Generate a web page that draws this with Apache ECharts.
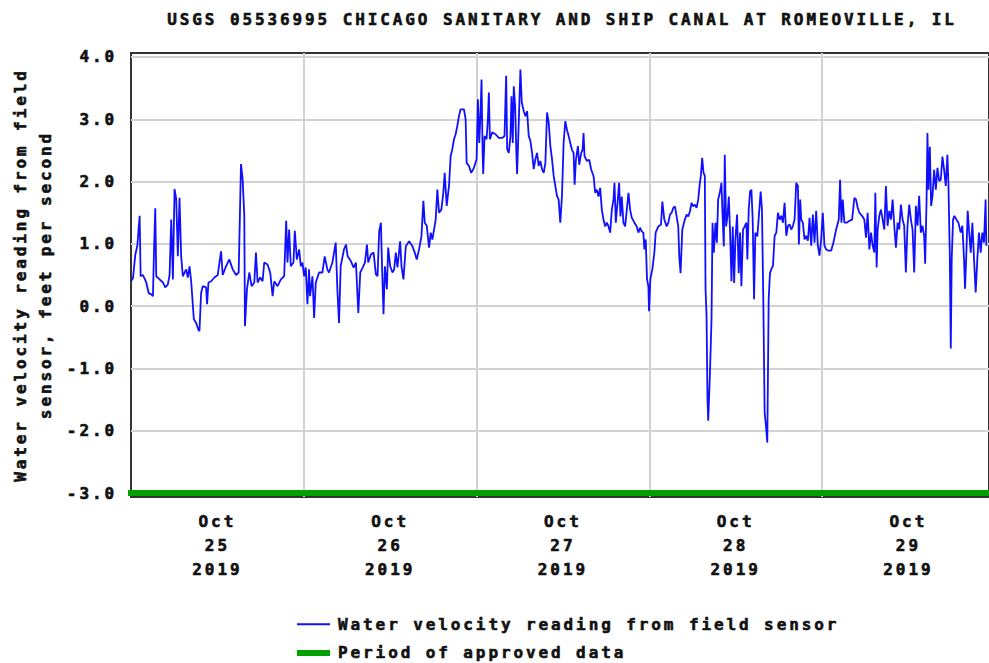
<!DOCTYPE html>
<html>
<head>
<meta charset="utf-8">
<script src="https://cdn.jsdelivr.net/npm/echarts@6/dist/echarts.min.js"></script>
<style>
  html, body { margin: 0; padding: 0; background: #fff; }
  #chart { width: 989px; height: 663px; }
  /* the USGS plot uses a wide bitmap font, widen the mono glyphs a bit */
  #chart text { letter-spacing: 2.9px; }
</style>
</head>
<body>
<div id="chart"></div>
<script>
// hours since 2019-10-25 00:00, water velocity (ft/s)
const sensorPart1 = [[0,0.40],[0.28,0.45],[0.60,0.83],[0.88,0.97],[1.20,1.45],[1.34,0.48],[1.66,0.50],[2.12,0.38],[2.45,0.21],[2.82,0.19],[3.05,0.16],[3.19,0.86],[3.37,1.57],[3.51,0.48],[3.97,0.43],[4.43,0.38],[4.76,0.30],[5.12,0.35],[5.36,0.50],[5.59,1.39],[5.82,0.43],[6.05,1.88],[6.28,1.72],[6.51,0.80],[6.74,1.74],[6.97,0.80],[7.20,0.48],[7.66,0.59],[7.89,0.46],[8.13,0.64],[8.36,0.40],[8.73,-0.21],[9.05,-0.27],[9.37,-0.38],[9.51,-0.40],[9.74,0.21],[9.97,0.32],[10.43,0.30],[10.57,0.03],[10.76,0.38],[11.13,0.40],[11.59,0.46],[12.05,0.50],[12.51,0.88],[12.74,0.50],[13.20,0.64],[13.66,0.75],[14.13,0.59],[14.59,0.50],[14.96,0.54],[15.28,2.28],[15.51,2.04],[15.74,1.45],[15.83,-0.32],[16.11,0.27],[16.43,0.54],[16.76,0.32],[17.13,0.38],[17.36,0.86],[17.59,0.38],[17.96,0.46],[18.28,0.40],[18.51,0.70],[18.97,0.67],[19.34,0.54],[19.67,0.16],[19.90,0.40],[20.36,0.32],[20.82,0.43],[21.28,0.48],[21.56,1.37],[21.74,0.70],[21.97,1.23],[22.20,0.64],[22.57,0.70],[22.76,1.21],[23.04,0.75],[23.36,0.91],[23.59,0.64],[23.82,0.70],[24.05,0.48],[24.28,0.62],[24.51,0.03],[24.74,0.59],[24.88,0.16],[25.21,0.48],[25.44,-0.19],[25.67,0.38],[26.13,0.54],[26.59,0.54],[26.91,0.80],[27.28,0.59],[27.51,0.54],[27.98,0.70],[28.44,1.02],[28.67,0.27],[28.90,-0.27],[29.13,0.64],[29.59,0.91]];
const sensorPart2 = [[29.87,0.99],[30.10,0.80],[30.56,0.72],[30.93,0.62],[31.25,0.70],[31.58,-0.11],[31.85,0.54],[32.18,0.62],[32.50,0.70],[32.78,0.99],[32.96,0.70],[33.33,0.83],[33.70,0.86],[34.02,0.51],[34.25,0.48],[34.48,1.20],[34.72,1.34],[34.90,0.54],[35.08,-0.13],[35.27,0.64],[35.55,0.27],[35.73,0.94],[36.01,0.64],[36.33,0.54],[36.56,0.59],[36.79,0.86],[37.02,0.62],[37.39,1.04],[37.58,0.64],[37.85,0.43],[38.18,0.96],[38.64,1.04],[39.10,0.96],[39.42,0.86],[39.70,0.75],[40.02,0.91],[40.35,1.12],[40.62,1.69],[40.81,1.34],[41.09,1.29],[41.41,0.94],[41.64,1.18],[41.87,1.07],[42.10,1.23],[42.33,1.39],[42.56,1.87],[42.79,1.50],[43.12,1.55],[43.39,1.82],[43.58,2.14],[43.86,1.61],[44.18,1.93],[44.41,2.41],[44.64,2.52],[44.87,2.68],[45.10,2.76],[45.33,2.89],[45.56,3.05],[45.79,3.16],[46.26,3.16],[46.49,3.00],[46.63,2.30],[46.95,2.25],[47.27,2.14],[47.64,2.22],[48.01,2.36],[48.20,3.32],[48.38,2.62],[48.56,3.11],[48.70,3.64],[48.84,2.52],[48.93,2.12],[49.12,2.73],[49.40,2.68],[49.58,3.00],[49.72,3.43],[49.86,2.68],[50.18,2.79],[50.64,2.76],[51.10,2.70],[51.56,2.70],[51.89,2.73],[52.12,3.70],[52.26,2.52],[52.49,2.46],[52.72,2.73],[52.86,3.37],[53.04,2.62],[53.18,3.53],[53.37,3.21],[53.55,2.41],[53.64,2.12],[53.87,2.95],[54.10,3.80],[54.29,3.27],[54.57,3.13],[54.80,3.05],[55.03,3.13],[55.26,2.73],[55.49,2.65],[55.72,2.46],[55.95,2.20],[56.18,2.36],[56.41,2.46],[56.64,2.25],[56.87,2.33],[57.10,2.20],[57.34,2.14],[57.57,2.30],[57.80,3.11],[58.03,2.95],[58.26,2.57],[58.49,2.36],[58.72,2.09],[58.95,1.93],[59.18,1.77],[59.41,1.71],[59.64,1.34]];
const sensorPart3 = [[59.87,1.76],[60.10,2.62],[60.34,2.97],[60.57,2.83],[60.80,2.73],[61.03,2.62],[61.26,2.51],[61.49,2.46],[61.63,1.95],[61.81,2.35],[62.09,2.57],[62.27,2.27],[62.55,2.46],[62.74,2.51],[62.87,2.78],[63.01,2.41],[63.34,2.33],[63.66,2.35],[63.94,2.19],[64.26,2.09],[64.49,1.82],[64.72,1.87],[64.95,1.76],[65.18,1.90],[65.41,1.55],[65.64,1.39],[65.88,1.28],[66.11,1.34],[66.34,1.28],[66.57,1.18],[66.80,1.55],[67.03,1.71],[67.17,1.98],[67.35,1.34],[67.63,1.71],[67.81,1.98],[68.00,1.44],[68.18,1.76],[68.41,1.34],[68.65,1.28],[68.88,1.55],[69.11,1.82],[69.34,1.55],[69.57,1.42],[69.94,1.34],[70.26,1.28],[70.49,1.18],[70.72,1.26],[70.95,1.20],[71.18,1.18],[71.32,0.91],[71.51,1.07],[71.69,0.43],[71.88,0.32],[71.97,-0.08],[72.15,0.43],[72.43,0.59],[72.71,0.86],[72.89,1.18],[73.26,1.28],[73.63,1.31],[73.82,1.68],[74.09,1.39],[74.42,1.28],[74.65,1.34],[74.88,1.47],[75.11,1.50],[75.34,1.58],[75.57,1.60],[75.80,1.44],[76.03,1.28],[76.17,0.80],[76.35,0.53],[76.59,1.23],[76.95,1.39],[77.19,1.47],[77.42,1.44],[77.65,1.52],[77.88,1.66],[78.11,1.60],[78.34,1.63],[78.57,1.58],[78.80,1.71],[79.03,1.98],[79.17,2.09],[79.35,2.38],[79.54,2.14],[79.72,2.09],[79.82,0.27],[79.96,-0.16],[80.09,-1.50],[80.19,-1.84],[80.42,-1.12],[80.65,-0.21],[80.79,1.34],[80.97,0.86],[81.20,1.34],[81.39,1.02],[81.57,1.71],[81.80,1.82],[82.03,1.98],[82.17,1.50],[82.36,0.96],[82.49,2.43],[82.68,1.28],[82.86,1.44],[83.05,1.76],[83.23,1.18],[83.42,0.40],[83.60,1.28],[83.79,0.37],[83.97,1.07],[84.20,1.47],[84.43,0.53],[84.62,1.18],[84.80,0.32],[85.03,1.23],[85.26,1.28],[85.49,1.34],[85.63,0.75],[85.82,1.55],[86.00,1.84],[86.19,1.87],[86.37,1.39],[86.56,0.11],[86.74,1.18],[87.02,1.12],[87.29,1.55],[87.48,1.84],[87.66,1.55],[87.85,0.05],[88.03,-1.71],[88.22,-1.93],[88.40,-2.19],[88.59,0.11],[88.77,0.53],[88.96,0.59]];
const sensorPart4 = [[89.19,0.65],[89.42,1.13],[89.65,1.18],[89.88,1.50],[90.11,1.39],[90.34,1.45],[90.57,1.34],[90.80,1.66],[91.04,1.13],[91.27,1.29],[91.50,1.31],[91.73,1.23],[91.96,1.29],[92.19,1.39],[92.42,1.98],[92.65,1.93],[92.79,0.99],[92.97,1.71],[93.11,1.39],[93.34,1.34],[93.57,1.07],[93.80,1.13],[94.04,1.05],[94.27,1.42],[94.50,0.97],[94.73,1.47],[94.96,1.02],[95.19,1.53],[95.42,0.97],[95.65,0.81],[95.88,1.07],[96.11,1.50],[96.34,0.97],[96.57,0.91],[96.94,0.89],[97.27,0.89],[97.59,1.02],[97.96,1.23],[98.33,1.39],[98.51,2.03],[98.70,1.34],[98.88,1.71],[99.11,1.34],[99.44,1.34],[99.81,1.37],[100.18,1.39],[100.50,1.74],[100.73,1.71],[100.96,1.58],[101.19,1.50],[101.56,1.45],[101.88,1.39],[102.11,1.10],[102.34,1.50],[102.58,0.91],[102.81,1.18],[103.04,0.97],[103.27,0.86],[103.41,1.82],[103.59,0.62],[103.73,1.23],[103.96,1.45],[104.19,1.55],[104.42,1.39],[104.65,1.23],[104.88,1.93],[105.11,1.29],[105.35,1.53],[105.58,1.39],[105.81,1.71],[106.04,1.29],[106.27,0.94],[106.50,1.34],[106.73,1.23],[106.96,1.63],[107.19,1.39],[107.42,1.29],[107.65,0.54],[107.88,1.29],[108.12,1.63],[108.35,1.39],[108.58,1.23],[108.81,0.54],[109.04,1.61],[109.27,1.29],[109.50,1.77],[109.73,1.18],[109.96,1.29],[110.19,1.13],[110.33,0.68],[110.52,1.66],[110.65,2.78],[110.79,1.87],[110.98,2.56],[111.16,1.61],[111.35,1.77],[111.58,2.19],[111.81,1.87],[112.04,2.22],[112.27,2.01],[112.50,2.03],[112.73,2.40],[112.96,2.19],[113.19,1.93],[113.42,2.43],[113.56,1.98],[113.75,0.86],[113.89,-0.68],[114.02,0.76],[114.21,1.39],[114.39,1.45],[114.67,1.39],[114.95,1.34],[115.27,1.18],[115.50,1.29],[115.73,0.76],[115.87,0.28],[116.06,0.86],[116.24,1.53],[116.42,1.23],[116.66,0.86],[116.89,1.34],[117.12,0.76],[117.35,0.22],[117.58,0.76],[117.81,1.18],[118.04,0.86],[118.27,1.18],[118.50,1.02],[118.73,1.71],[118.83,0.97]];

// approved-data period, drawn along the bottom of the plot
const approvedHours = [-0.7, 119.2];
const approvedLevel = -3.0;

const yTicks = [-3, -2, -1, 0, 1, 2, 3, 4];
const dayStarts = [24, 48, 72, 96];
const dayNoons = [12, 36, 60, 84, 108];
const dayMonth = 'Oct';
const dayNumbers = ['25', '26', '27', '28', '29'];
const dayYear = '2019';

const font = 'DejaVu Sans Mono';
// thin outline in the text colour makes the glyphs as heavy as the original bitmap font
const textStyle = {
  fontFamily: font, fontWeight: 'bold', fontSize: 16, color: '#111',
  textBorderColor: '#111', textBorderWidth: 0.6
};
const blue = '#1010ff';
const green = '#00a000';

const chart = echarts.init(document.getElementById('chart'), null, { renderer: 'svg' });

chart.setOption({
  animation: false,
  backgroundColor: '#fff',
  title: {
    text: 'USGS 05536995 CHICAGO SANITARY AND SHIP CANAL AT ROMEOVILLE, IL',
    left: 557,
    top: 6,
    textAlign: 'center',
    textStyle: textStyle
  },
  grid: {
    left: 130,
    right: -2,
    top: 53,
    bottom: 166,
    show: true,
    backgroundColor: '#fff',
    borderColor: '#333',
    borderWidth: 2
  },
  legend: {
    orient: 'vertical',
    left: 292,
    top: 611,
    height: 60,
    itemWidth: 33,
    itemHeight: 14,
    itemGap: 12,
    textStyle: { ...textStyle, padding: [0, 0, 0, 3] },
    data: [
      { name: 'Water velocity reading from field sensor', icon: 'path://M0,0 L33,0 L33,2 L0,2 Z' },
      { name: 'Period of approved data', icon: 'path://M0,0 L33,0 L33,6 L0,6 Z' }
    ]
  },
  xAxis: {
    type: 'value',
    min: 0,
    max: 119.2,
    axisLine: { show: false },
    axisTick: { show: false, customValues: dayStarts },
    splitLine: { show: true, lineStyle: { color: '#d2d2d2', width: 2 } },
    axisLabel: {
      customValues: dayNoons,
      margin: 12,
      ...textStyle,
      lineHeight: 24,
      formatter: v => {
        const i = dayNoons.indexOf(v);
        return i < 0 ? '' : dayMonth + '\n' + dayNumbers[i] + '\n' + dayYear;
      }
    }
  },
  yAxis: {
    type: 'value',
    min: -3.064,
    max: 4.064,
    name: 'Water velocity reading from field\nsensor, feet per second',
    nameLocation: 'middle',
    nameRotate: 90,
    nameGap: 73,
    nameTextStyle: { ...textStyle, lineHeight: 25 },
    axisLine: { show: false },
    axisTick: { show: false, customValues: yTicks },
    splitLine: { show: true, lineStyle: { color: '#d2d2d2', width: 2 } },
    axisLabel: {
      customValues: yTicks,
      margin: 14,
      ...textStyle,
      formatter: v => v.toFixed(1)
    }
  },
  series: [
    {
      name: 'Water velocity reading from field sensor',
      type: 'line',
      data: [...sensorPart1, ...sensorPart2, ...sensorPart3, ...sensorPart4],
      showSymbol: false,
      symbol: 'none',
      sampling: 'none',
      lineStyle: { color: blue, width: 1.8 },
      itemStyle: { color: blue },
      z: 3
    },
    {
      name: 'Period of approved data',
      type: 'line',
      data: approvedHours.map(h => [h, approvedLevel]),
      showSymbol: false,
      symbol: 'none',
      clip: false,
      lineStyle: { color: green, width: 6 },
      itemStyle: { color: green },
      z: 4
    }
  ]
});
</script>
</body>
</html>
